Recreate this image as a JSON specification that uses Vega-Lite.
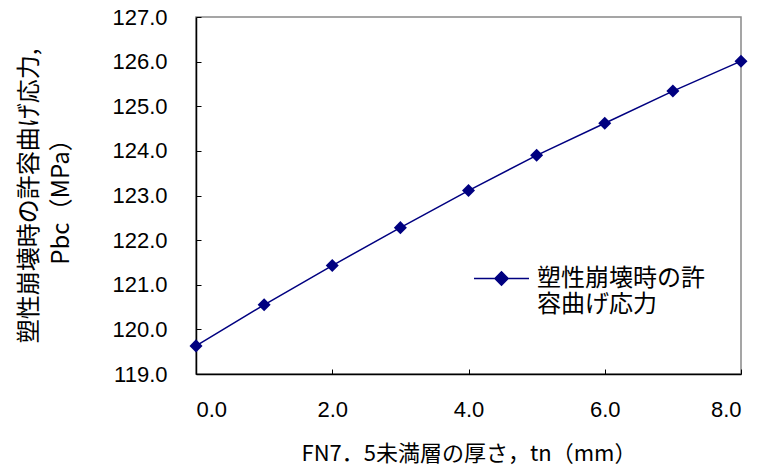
{
  "$schema": "https://vega.github.io/schema/vega-lite/v6.json",
  "autosize": {"type": "none"},
  "width": 545,
  "height": 357,
  "padding": {"left": 196, "top": 17, "right": 19, "bottom": 95},
  "background": "white",
  "view": {"stroke": "#888888", "strokeWidth": 1.5},
  "data": {"values": [
    {"tn": 0, "pbc": 119.63, "s": "塑性崩壊時の許容曲げ応力"},
    {"tn": 1, "pbc": 120.55, "s": "塑性崩壊時の許容曲げ応力"},
    {"tn": 2, "pbc": 121.43, "s": "塑性崩壊時の許容曲げ応力"},
    {"tn": 3, "pbc": 122.28, "s": "塑性崩壊時の許容曲げ応力"},
    {"tn": 4, "pbc": 123.11, "s": "塑性崩壊時の許容曲げ応力"},
    {"tn": 5, "pbc": 123.90, "s": "塑性崩壊時の許容曲げ応力"},
    {"tn": 6, "pbc": 124.62, "s": "塑性崩壊時の許容曲げ応力"},
    {"tn": 7, "pbc": 125.34, "s": "塑性崩壊時の許容曲げ応力"},
    {"tn": 8, "pbc": 126.01, "s": "塑性崩壊時の許容曲げ応力"}
  ]},
  "mark": {"type": "line", "strokeWidth": 1.5, "point": {"shape": "diamond", "size": 170, "filled": true, "opacity": 1}},
  "encoding": {
    "x": {"field": "tn", "type": "quantitative",
      "scale": {"domain": [0, 8], "nice": false},
      "axis": {"values": [0, 2, 4, 6, 8], "format": ".1f", "grid": false,
        "title": "FN7．5未満層の厚さ，tn（mm）",
        "titleFont": "Noto Sans CJK JP", "titleFontSize": 22, "titleFontWeight": "normal", "titleColor": "#000",
        "titlePadding": 23,
        "labelFont": "Liberation Sans", "labelFontSize": 22, "labelColor": "#000", "labelPadding": 30,
        "tickSize": -5, "tickColor": "#000", "domainColor": "#000", "domainWidth": 1.5}},
    "y": {"field": "pbc", "type": "quantitative",
      "scale": {"domain": [119, 127], "nice": false, "zero": false},
      "axis": {"values": [119, 120, 121, 122, 123, 124, 125, 126, 127], "format": ".1f", "grid": false,
        "title": ["塑性崩壊時の許容曲げ応力,", "Pbc（MPa）"],
        "titleFont": "Noto Sans CJK JP", "titleFontSize": 24, "titleFontWeight": "normal", "titleColor": "#000",
        "titlePadding": 38, "titleLineHeight": 32,
        "labelFont": "Liberation Sans", "labelFontSize": 22, "labelColor": "#000", "labelPadding": 34,
        "tickSize": -5, "tickColor": "#000", "domainColor": "#000", "domainWidth": 1.5}},
    "color": {"field": "s", "type": "nominal",
      "scale": {"range": ["#000080"]},
      "legend": {"orient": "none", "legendX": 277, "legendY": 233, "title": null,
        "symbolType": "M-1,0L1,0M-0.24,0L0,-0.24L0.24,0L0,0.24Z",
        "symbolSize": 3025, "symbolStrokeWidth": 1.5, "symbolFillColor": "#000080", "symbolStrokeColor": "#000080",
        "labelExpr": "['塑性崩壊時の許', '容曲げ応力']",
        "labelFont": "Noto Sans CJK JP", "labelFontSize": 24, "labelColor": "#000", "labelLineHeight": 33,
        "labelLimit": 400, "labelOffset": 7}}
  }
}
